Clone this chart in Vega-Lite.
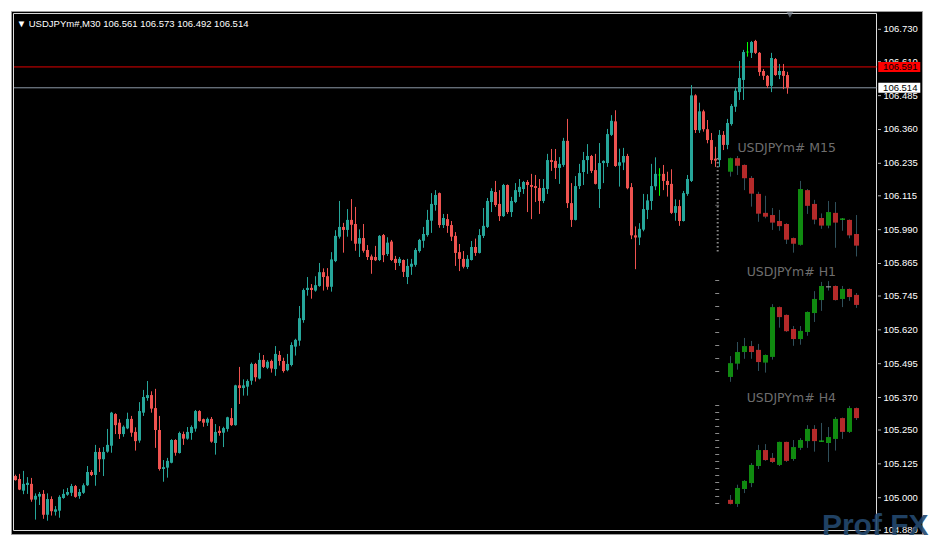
{
"$schema":"https://vega.github.io/schema/vega-lite/v6.json",
"width":911,"height":523,
"autosize":{"type":"none"},
"padding":{"left":11,"top":11,"right":14,"bottom":8},
"background":"#ffffff",
"config":{"view":{"fill":"#000000","stroke":"#9c9c9c"}},
"datasets":{
"m30":[
{"bar":0,"open":105.080,"high":105.085,"low":105.063,"close":105.065},
{"bar":1,"open":105.069,"high":105.088,"low":105.028,"close":105.030},
{"bar":2,"open":105.026,"high":105.099,"low":105.013,"close":105.051},
{"bar":3,"open":105.047,"high":105.076,"low":105.014,"close":105.055},
{"bar":4,"open":105.051,"high":105.073,"low":104.985,"close":104.993},
{"bar":5,"open":104.993,"high":105.016,"low":104.919,"close":105.007},
{"bar":6,"open":105.004,"high":105.021,"low":104.973,"close":105.014},
{"bar":7,"open":105.014,"high":105.028,"low":104.922,"close":104.937},
{"bar":8,"open":104.937,"high":105.016,"low":104.915,"close":104.995},
{"bar":9,"open":104.995,"high":105.005,"low":104.934,"close":104.950},
{"bar":10,"open":104.948,"high":104.969,"low":104.934,"close":104.957},
{"bar":11,"open":104.952,"high":105.009,"low":104.926,"close":105.003},
{"bar":12,"open":104.999,"high":105.031,"low":104.996,"close":105.014},
{"bar":13,"open":105.011,"high":105.036,"low":105.007,"close":105.021},
{"bar":14,"open":105.018,"high":105.051,"low":105.006,"close":105.043},
{"bar":15,"open":105.043,"high":105.047,"low":105.000,"close":105.003},
{"bar":16,"open":105.006,"high":105.032,"low":104.996,"close":105.021},
{"bar":17,"open":105.018,"high":105.053,"low":105.014,"close":105.046},
{"bar":18,"open":105.046,"high":105.117,"low":105.043,"close":105.095},
{"bar":19,"open":105.095,"high":105.102,"low":105.080,"close":105.084},
{"bar":20,"open":105.084,"high":105.195,"low":105.044,"close":105.169},
{"bar":21,"open":105.169,"high":105.184,"low":105.095,"close":105.142},
{"bar":22,"open":105.142,"high":105.187,"low":105.080,"close":105.169},
{"bar":23,"open":105.170,"high":105.254,"low":105.166,"close":105.195},
{"bar":24,"open":105.192,"high":105.317,"low":105.166,"close":105.314},
{"bar":25,"open":105.309,"high":105.312,"low":105.235,"close":105.268},
{"bar":26,"open":105.277,"high":105.290,"low":105.217,"close":105.235},
{"bar":27,"open":105.235,"high":105.267,"low":105.225,"close":105.262},
{"bar":28,"open":105.256,"high":105.314,"low":105.253,"close":105.291},
{"bar":29,"open":105.291,"high":105.302,"low":105.225,"close":105.240},
{"bar":30,"open":105.243,"high":105.260,"low":105.174,"close":105.209},
{"bar":31,"open":105.211,"high":105.353,"low":105.203,"close":105.320},
{"bar":32,"open":105.314,"high":105.398,"low":105.302,"close":105.372},
{"bar":33,"open":105.368,"high":105.431,"low":105.358,"close":105.379},
{"bar":34,"open":105.379,"high":105.393,"low":105.314,"close":105.329},
{"bar":35,"open":105.331,"high":105.402,"low":105.184,"close":105.250},
{"bar":36,"open":105.250,"high":105.302,"low":105.100,"close":105.106},
{"bar":37,"open":105.106,"high":105.139,"low":105.059,"close":105.113},
{"bar":38,"open":105.111,"high":105.147,"low":105.074,"close":105.136},
{"bar":39,"open":105.129,"high":105.216,"low":105.127,"close":105.213},
{"bar":40,"open":105.213,"high":105.216,"low":105.155,"close":105.166},
{"bar":41,"open":105.165,"high":105.244,"low":105.163,"close":105.239},
{"bar":42,"open":105.235,"high":105.244,"low":105.195,"close":105.218},
{"bar":43,"open":105.218,"high":105.261,"low":105.214,"close":105.243},
{"bar":44,"open":105.239,"high":105.267,"low":105.214,"close":105.261},
{"bar":45,"open":105.255,"high":105.324,"low":105.244,"close":105.320},
{"bar":46,"open":105.320,"high":105.323,"low":105.281,"close":105.283},
{"bar":47,"open":105.290,"high":105.292,"low":105.262,"close":105.277},
{"bar":48,"open":105.277,"high":105.296,"low":105.265,"close":105.291},
{"bar":49,"open":105.291,"high":105.298,"low":105.203,"close":105.207},
{"bar":50,"open":105.202,"high":105.272,"low":105.159,"close":105.243},
{"bar":51,"open":105.247,"high":105.264,"low":105.229,"close":105.239},
{"bar":52,"open":105.240,"high":105.262,"low":105.187,"close":105.257},
{"bar":53,"open":105.254,"high":105.299,"low":105.244,"close":105.297},
{"bar":54,"open":105.294,"high":105.331,"low":105.265,"close":105.268},
{"bar":55,"open":105.268,"high":105.417,"low":105.266,"close":105.415},
{"bar":56,"open":105.415,"high":105.483,"low":105.346,"close":105.405},
{"bar":57,"open":105.405,"high":105.437,"low":105.377,"close":105.415},
{"bar":58,"open":105.410,"high":105.437,"low":105.377,"close":105.431},
{"bar":59,"open":105.432,"high":105.499,"low":105.417,"close":105.494},
{"bar":60,"open":105.494,"high":105.498,"low":105.429,"close":105.445},
{"bar":61,"open":105.440,"high":105.535,"low":105.437,"close":105.509},
{"bar":62,"open":105.509,"high":105.527,"low":105.479,"close":105.483},
{"bar":63,"open":105.480,"high":105.508,"low":105.475,"close":105.502},
{"bar":64,"open":105.505,"high":105.510,"low":105.462,"close":105.477},
{"bar":65,"open":105.475,"high":105.560,"low":105.450,"close":105.531},
{"bar":66,"open":105.527,"high":105.542,"low":105.488,"close":105.505},
{"bar":67,"open":105.505,"high":105.517,"low":105.462,"close":105.468},
{"bar":68,"open":105.471,"high":105.531,"low":105.467,"close":105.494},
{"bar":69,"open":105.490,"high":105.574,"low":105.485,"close":105.564},
{"bar":70,"open":105.558,"high":105.587,"low":105.525,"close":105.583},
{"bar":71,"open":105.580,"high":105.708,"low":105.561,"close":105.663},
{"bar":72,"open":105.656,"high":105.773,"low":105.646,"close":105.767},
{"bar":73,"open":105.767,"high":105.815,"low":105.746,"close":105.775},
{"bar":74,"open":105.775,"high":105.789,"low":105.735,"close":105.767},
{"bar":75,"open":105.765,"high":105.818,"low":105.761,"close":105.785},
{"bar":76,"open":105.782,"high":105.867,"low":105.779,"close":105.833},
{"bar":77,"open":105.833,"high":105.847,"low":105.765,"close":105.815},
{"bar":78,"open":105.818,"high":105.848,"low":105.768,"close":105.779},
{"bar":79,"open":105.779,"high":105.907,"low":105.761,"close":105.880},
{"bar":80,"open":105.874,"high":105.988,"low":105.870,"close":105.967},
{"bar":81,"open":105.964,"high":106.096,"low":105.957,"close":106.000},
{"bar":82,"open":106.000,"high":106.015,"low":105.905,"close":105.989},
{"bar":83,"open":105.989,"high":106.066,"low":105.964,"close":106.026},
{"bar":84,"open":106.026,"high":106.103,"low":105.949,"close":106.008},
{"bar":85,"open":106.011,"high":106.074,"low":105.912,"close":105.938},
{"bar":86,"open":105.938,"high":105.991,"low":105.889,"close":105.959},
{"bar":87,"open":105.959,"high":106.011,"low":105.905,"close":105.912},
{"bar":88,"open":105.915,"high":105.933,"low":105.878,"close":105.889},
{"bar":89,"open":105.891,"high":105.898,"low":105.827,"close":105.878},
{"bar":90,"open":105.889,"high":105.930,"low":105.874,"close":105.877},
{"bar":91,"open":105.878,"high":105.970,"low":105.874,"close":105.967},
{"bar":92,"open":105.970,"high":105.974,"low":105.870,"close":105.896},
{"bar":93,"open":105.900,"high":105.962,"low":105.893,"close":105.942},
{"bar":94,"open":105.946,"high":105.952,"low":105.874,"close":105.878},
{"bar":95,"open":105.882,"high":105.893,"low":105.841,"close":105.867},
{"bar":96,"open":105.867,"high":105.889,"low":105.856,"close":105.882},
{"bar":97,"open":105.878,"high":105.880,"low":105.815,"close":105.834},
{"bar":98,"open":105.815,"high":105.882,"low":105.789,"close":105.856},
{"bar":99,"open":105.853,"high":105.882,"low":105.823,"close":105.864},
{"bar":100,"open":105.860,"high":105.922,"low":105.853,"close":105.915},
{"bar":101,"open":105.911,"high":105.956,"low":105.905,"close":105.952},
{"bar":102,"open":105.949,"high":106.000,"low":105.923,"close":105.974},
{"bar":103,"open":105.970,"high":106.063,"low":105.964,"close":106.026},
{"bar":104,"open":106.023,"high":106.125,"low":105.978,"close":106.085},
{"bar":105,"open":106.081,"high":106.136,"low":106.060,"close":106.118},
{"bar":106,"open":106.125,"high":106.127,"low":105.997,"close":106.007},
{"bar":107,"open":106.007,"high":106.048,"low":105.996,"close":106.033},
{"bar":108,"open":106.029,"high":106.048,"low":105.978,"close":106.004},
{"bar":109,"open":106.007,"high":106.022,"low":105.948,"close":105.964},
{"bar":110,"open":105.967,"high":105.981,"low":105.856,"close":105.904},
{"bar":111,"open":105.907,"high":105.937,"low":105.837,"close":105.882},
{"bar":112,"open":105.882,"high":105.911,"low":105.847,"close":105.853},
{"bar":113,"open":105.852,"high":105.896,"low":105.845,"close":105.882},
{"bar":114,"open":105.878,"high":105.948,"low":105.876,"close":105.926},
{"bar":115,"open":105.926,"high":105.957,"low":105.893,"close":105.904},
{"bar":116,"open":105.904,"high":105.992,"low":105.902,"close":105.970},
{"bar":117,"open":105.967,"high":106.070,"low":105.959,"close":106.004},
{"bar":118,"open":106.000,"high":106.107,"low":105.996,"close":106.096},
{"bar":119,"open":106.092,"high":106.143,"low":106.055,"close":106.133},
{"bar":120,"open":106.129,"high":106.170,"low":106.074,"close":106.081},
{"bar":121,"open":106.085,"high":106.136,"low":106.022,"close":106.040},
{"bar":122,"open":106.040,"high":106.159,"low":106.037,"close":106.155},
{"bar":123,"open":106.155,"high":106.157,"low":106.048,"close":106.055},
{"bar":124,"open":106.055,"high":106.111,"low":106.037,"close":106.096},
{"bar":125,"open":106.092,"high":106.162,"low":106.088,"close":106.136},
{"bar":126,"open":106.129,"high":106.177,"low":106.111,"close":106.148},
{"bar":127,"open":106.140,"high":106.170,"low":106.122,"close":106.166},
{"bar":128,"open":106.166,"high":106.173,"low":106.055,"close":106.155},
{"bar":129,"open":106.155,"high":106.196,"low":106.029,"close":106.148},
{"bar":130,"open":106.151,"high":106.192,"low":106.092,"close":106.144},
{"bar":131,"open":106.144,"high":106.177,"low":106.048,"close":106.096},
{"bar":132,"open":106.096,"high":106.177,"low":106.088,"close":106.144},
{"bar":133,"open":106.140,"high":106.270,"low":106.122,"close":106.247},
{"bar":134,"open":106.247,"high":106.288,"low":106.207,"close":106.240},
{"bar":135,"open":106.244,"high":106.288,"low":106.177,"close":106.218},
{"bar":136,"open":106.218,"high":106.258,"low":106.159,"close":106.233},
{"bar":137,"open":106.229,"high":106.329,"low":106.222,"close":106.318},
{"bar":138,"open":106.318,"high":106.399,"low":106.070,"close":106.088},
{"bar":139,"open":106.088,"high":106.162,"low":106.000,"close":106.026},
{"bar":140,"open":106.026,"high":106.188,"low":106.024,"close":106.151},
{"bar":141,"open":106.151,"high":106.233,"low":106.140,"close":106.199},
{"bar":142,"open":106.203,"high":106.277,"low":106.155,"close":106.247},
{"bar":143,"open":106.247,"high":106.306,"low":106.196,"close":106.262},
{"bar":144,"open":106.262,"high":106.266,"low":106.199,"close":106.207},
{"bar":145,"open":106.210,"high":106.270,"low":106.157,"close":106.159},
{"bar":146,"open":106.140,"high":106.310,"low":106.070,"close":106.236},
{"bar":147,"open":106.236,"high":106.246,"low":106.162,"close":106.244},
{"bar":148,"open":106.236,"high":106.362,"low":106.222,"close":106.343},
{"bar":149,"open":106.340,"high":106.413,"low":106.336,"close":106.392},
{"bar":150,"open":106.390,"high":106.431,"low":106.222,"close":106.225},
{"bar":151,"open":106.226,"high":106.289,"low":106.149,"close":106.239},
{"bar":152,"open":106.238,"high":106.292,"low":106.210,"close":106.262},
{"bar":153,"open":106.262,"high":106.270,"low":106.139,"close":106.143},
{"bar":154,"open":106.147,"high":106.162,"low":105.955,"close":105.969},
{"bar":155,"open":105.969,"high":106.002,"low":105.844,"close":105.961},
{"bar":156,"open":105.961,"high":106.014,"low":105.933,"close":105.993},
{"bar":157,"open":105.990,"high":106.122,"low":105.984,"close":106.066},
{"bar":158,"open":106.063,"high":106.121,"low":106.029,"close":106.098},
{"bar":159,"open":106.096,"high":106.233,"low":106.063,"close":106.151},
{"bar":160,"open":106.150,"high":106.257,"low":106.136,"close":106.196},
{"bar":161,"open":106.192,"high":106.217,"low":106.115,"close":106.192},
{"bar":162,"open":106.196,"high":106.229,"low":106.136,"close":106.170},
{"bar":163,"open":106.170,"high":106.204,"low":106.112,"close":106.155},
{"bar":164,"open":106.159,"high":106.213,"low":106.048,"close":106.052},
{"bar":165,"open":106.052,"high":106.102,"low":106.023,"close":106.077},
{"bar":166,"open":106.077,"high":106.100,"low":106.004,"close":106.022},
{"bar":167,"open":106.022,"high":106.133,"low":106.020,"close":106.125},
{"bar":168,"open":106.122,"high":106.192,"low":106.115,"close":106.177},
{"bar":169,"open":106.170,"high":106.524,"low":106.166,"close":106.486},
{"bar":170,"open":106.486,"high":106.490,"low":106.347,"close":106.358},
{"bar":171,"open":106.357,"high":106.459,"low":106.347,"close":106.427},
{"bar":172,"open":106.427,"high":106.433,"low":106.352,"close":106.361},
{"bar":173,"open":106.361,"high":106.395,"low":106.309,"close":106.321},
{"bar":174,"open":106.321,"high":106.347,"low":106.233,"close":106.247},
{"bar":175,"open":106.252,"high":106.296,"low":106.222,"close":106.245},
{"bar":176,"open":106.247,"high":106.358,"low":106.222,"close":106.340},
{"bar":177,"open":106.340,"high":106.354,"low":106.284,"close":106.303},
{"bar":178,"open":106.303,"high":106.399,"low":106.287,"close":106.384},
{"bar":179,"open":106.380,"high":106.454,"low":106.374,"close":106.447},
{"bar":180,"open":106.444,"high":106.514,"low":106.425,"close":106.503},
{"bar":181,"open":106.498,"high":106.613,"low":106.469,"close":106.550},
{"bar":182,"open":106.543,"high":106.654,"low":106.469,"close":106.646},
{"bar":183,"open":106.646,"high":106.683,"low":106.629,"close":106.646},
{"bar":184,"open":106.643,"high":106.687,"low":106.624,"close":106.683},
{"bar":185,"open":106.687,"high":106.691,"low":106.639,"close":106.643},
{"bar":186,"open":106.643,"high":106.646,"low":106.558,"close":106.572},
{"bar":187,"open":106.576,"high":106.583,"low":106.543,"close":106.558},
{"bar":188,"open":106.558,"high":106.561,"low":106.513,"close":106.521},
{"bar":189,"open":106.521,"high":106.643,"low":106.498,"close":106.624},
{"bar":190,"open":106.620,"high":106.624,"low":106.558,"close":106.561},
{"bar":191,"open":106.561,"high":106.602,"low":106.546,"close":106.576},
{"bar":192,"open":106.576,"high":106.602,"low":106.509,"close":106.558},
{"bar":193,"open":106.561,"high":106.573,"low":106.492,"close":106.514}
],
"mini":[
{"tf":"M15","k":0,"open":106.204,"high":106.256,"low":106.186,"close":106.254},
{"tf":"M15","k":1,"open":106.254,"high":106.262,"low":106.192,"close":106.226},
{"tf":"M15","k":2,"open":106.229,"high":106.231,"low":106.136,"close":106.180},
{"tf":"M15","k":3,"open":106.181,"high":106.188,"low":106.075,"close":106.123},
{"tf":"M15","k":4,"open":106.122,"high":106.130,"low":106.019,"close":106.049},
{"tf":"M15","k":5,"open":106.052,"high":106.115,"low":106.032,"close":106.038},
{"tf":"M15","k":6,"open":106.044,"high":106.070,"low":105.989,"close":106.016},
{"tf":"M15","k":7,"open":106.022,"high":106.063,"low":105.986,"close":106.003},
{"tf":"M15","k":8,"open":106.011,"high":106.014,"low":105.937,"close":105.953},
{"tf":"M15","k":9,"open":105.959,"high":105.961,"low":105.905,"close":105.938},
{"tf":"M15","k":10,"open":105.934,"high":106.170,"low":105.931,"close":106.140},
{"tf":"M15","k":11,"open":106.136,"high":106.140,"low":106.048,"close":106.078},
{"tf":"M15","k":12,"open":106.085,"high":106.100,"low":106.010,"close":106.027},
{"tf":"M15","k":13,"open":106.033,"high":106.050,"low":105.993,"close":106.005},
{"tf":"M15","k":14,"open":106.005,"high":106.096,"low":105.995,"close":106.055},
{"tf":"M15","k":15,"open":106.052,"high":106.092,"low":105.923,"close":106.016},
{"tf":"M15","k":16,"open":106.027,"high":106.033,"low":105.986,"close":106.029},
{"tf":"M15","k":17,"open":106.026,"high":106.028,"low":105.958,"close":105.969},
{"tf":"M15","k":18,"open":105.974,"high":106.044,"low":105.891,"close":105.931},
{"tf":"H1","k":0,"open":105.446,"high":105.523,"low":105.428,"close":105.497},
{"tf":"H1","k":1,"open":105.495,"high":105.575,"low":105.473,"close":105.538},
{"tf":"H1","k":2,"open":105.538,"high":105.590,"low":105.513,"close":105.560},
{"tf":"H1","k":3,"open":105.560,"high":105.579,"low":105.513,"close":105.538},
{"tf":"H1","k":4,"open":105.546,"high":105.568,"low":105.468,"close":105.501},
{"tf":"H1","k":5,"open":105.499,"high":105.529,"low":105.462,"close":105.527},
{"tf":"H1","k":6,"open":105.520,"high":105.715,"low":105.510,"close":105.704},
{"tf":"H1","k":7,"open":105.704,"high":105.706,"low":105.628,"close":105.667},
{"tf":"H1","k":8,"open":105.675,"high":105.677,"low":105.612,"close":105.615},
{"tf":"H1","k":9,"open":105.623,"high":105.634,"low":105.561,"close":105.586},
{"tf":"H1","k":10,"open":105.586,"high":105.634,"low":105.565,"close":105.616},
{"tf":"H1","k":11,"open":105.612,"high":105.688,"low":105.598,"close":105.686},
{"tf":"H1","k":12,"open":105.682,"high":105.763,"low":105.649,"close":105.734},
{"tf":"H1","k":13,"open":105.730,"high":105.797,"low":105.690,"close":105.782},
{"tf":"H1","k":14,"open":105.779,"high":105.800,"low":105.765,"close":105.779},
{"tf":"H1","k":15,"open":105.782,"high":105.784,"low":105.728,"close":105.730},
{"tf":"H1","k":16,"open":105.734,"high":105.782,"low":105.704,"close":105.771},
{"tf":"H1","k":17,"open":105.771,"high":105.773,"low":105.727,"close":105.741},
{"tf":"H1","k":18,"open":105.749,"high":105.756,"low":105.701,"close":105.712},
{"tf":"H4","k":0,"open":104.992,"high":105.010,"low":104.975,"close":104.977},
{"tf":"H4","k":1,"open":104.977,"high":105.048,"low":104.966,"close":105.036},
{"tf":"H4","k":2,"open":105.032,"high":105.065,"low":105.017,"close":105.062},
{"tf":"H4","k":3,"open":105.054,"high":105.128,"low":105.039,"close":105.121},
{"tf":"H4","k":4,"open":105.117,"high":105.195,"low":105.106,"close":105.176},
{"tf":"H4","k":5,"open":105.176,"high":105.198,"low":105.136,"close":105.139},
{"tf":"H4","k":6,"open":105.147,"high":105.165,"low":105.128,"close":105.132},
{"tf":"H4","k":7,"open":105.121,"high":105.207,"low":105.117,"close":105.206},
{"tf":"H4","k":8,"open":105.206,"high":105.207,"low":105.132,"close":105.136},
{"tf":"H4","k":9,"open":105.143,"high":105.213,"low":105.136,"close":105.187},
{"tf":"H4","k":10,"open":105.184,"high":105.220,"low":105.176,"close":105.213},
{"tf":"H4","k":11,"open":105.209,"high":105.268,"low":105.184,"close":105.254},
{"tf":"H4","k":12,"open":105.254,"high":105.268,"low":105.170,"close":105.209},
{"tf":"H4","k":13,"open":105.207,"high":105.276,"low":105.206,"close":105.209},
{"tf":"H4","k":14,"open":105.202,"high":105.261,"low":105.132,"close":105.224},
{"tf":"H4","k":15,"open":105.217,"high":105.298,"low":105.174,"close":105.291},
{"tf":"H4","k":16,"open":105.294,"high":105.296,"low":105.217,"close":105.243},
{"tf":"H4","k":17,"open":105.243,"high":105.339,"low":105.239,"close":105.331},
{"tf":"H4","k":18,"open":105.331,"high":105.333,"low":105.287,"close":105.294}
],
"levels":[{"level":"ask","price":106.591},{"level":"bid","price":106.514}],
"yticks":[{"v":106.730},{"v":106.610},{"v":106.485},{"v":106.360},{"v":106.235},{"v":106.115},{"v":105.990},{"v":105.865},{"v":105.745},{"v":105.620},{"v":105.495},{"v":105.370},{"v":105.250},{"v":105.125},{"v":105.000},{"v":104.880}]
},
"resolve":{"scale":{"x":"independent"}},
"layer":[
{"data":{"values":[{}]},"mark":{"type":"rect","fillOpacity":0,"stroke":"#dcdcdc","strokeWidth":1},
 "encoding":{
  "x":{"datum":-0.5,"type":"quantitative","scale":{"domain":[-1.125,226.625],"nice":false,"zero":false},"axis":null},
  "x2":{"datum":215.25},
  "y":{"datum":106.7884,"type":"quantitative","scale":{"domain":[104.8659,106.7976],"nice":false,"zero":false},"axis":null},
  "y2":{"datum":104.8788}}},
{"data":{"name":"yticks"},"mark":{"type":"tick","orient":"horizontal","size":3,"thickness":1,"color":"#ffffff"},
 "encoding":{
  "x":{"datum":216.0,"type":"quantitative","scale":{"domain":[-1.125,226.625],"nice":false,"zero":false},"axis":null},
  "y":{"field":"v","type":"quantitative","scale":{"domain":[104.8659,106.7976],"nice":false,"zero":false},"axis":null}}},
{"data":{"name":"yticks"},"mark":{"type":"text","align":"left","baseline":"middle","font":"Liberation Sans","fontSize":9.5,"color":"#ffffff"},
 "encoding":{
  "x":{"datum":217.0,"type":"quantitative","scale":{"domain":[-1.125,226.625],"nice":false,"zero":false},"axis":null},
  "y":{"field":"v","type":"quantitative","scale":{"domain":[104.8659,106.7976],"nice":false,"zero":false},"axis":null},
  "text":{"field":"v","type":"quantitative","format":".3f"}}},
{"data":{"name":"levels"},"mark":{"type":"rule","strokeWidth":1},
 "encoding":{
  "x":{"datum":-0.375,"type":"quantitative","scale":{"domain":[-1.125,226.625],"nice":false,"zero":false},"axis":null},
  "x2":{"datum":215.25},
  "y":{"field":"price","type":"quantitative","scale":{"domain":[104.8659,106.7976],"nice":false,"zero":false},"axis":null},
  "color":{"condition":{"test":"datum.level === 'ask'","value":"#e00000"},"value":"#8c98a6"}}},
{"data":{"name":"m30"},"mark":{"type":"rule","strokeWidth":1},
 "encoding":{
  "x":{"field":"bar","type":"quantitative","scale":{"domain":[-1.125,226.625],"nice":false,"zero":false},"axis":null},
  "y":{"field":"low","type":"quantitative","scale":{"domain":[104.8659,106.7976],"nice":false,"zero":false},"axis":null},
  "y2":{"field":"high"},
  "color":{"condition":[{"test":"datum.close > datum.open","value":"#26a69a"},{"test":"datum.close < datum.open","value":"#ef5350"}],"value":"#00ff00"}}},
{"data":{"name":"m30"},"mark":{"type":"rule","strokeWidth":3,"strokeCap":"butt"},
 "encoding":{
  "x":{"field":"bar","type":"quantitative","scale":{"domain":[-1.125,226.625],"nice":false,"zero":false},"axis":null},
  "y":{"field":"open","type":"quantitative","scale":{"domain":[104.8659,106.7976],"nice":false,"zero":false},"axis":null},
  "y2":{"field":"close"},
  "color":{"condition":[{"test":"datum.close > datum.open","value":"#26a69a"},{"test":"datum.close < datum.open","value":"#ef5350"}],"value":"#00ff00"}}},
{"data":{"name":"m30"},"transform":[{"filter":"abs(datum.close - datum.open) < 0.002"}],
 "mark":{"type":"tick","orient":"horizontal","size":3,"thickness":1},
 "encoding":{
  "x":{"field":"bar","type":"quantitative","scale":{"domain":[-1.125,226.625],"nice":false,"zero":false},"axis":null},
  "y":{"field":"close","type":"quantitative","scale":{"domain":[104.8659,106.7976],"nice":false,"zero":false},"axis":null},
  "color":{"condition":[{"test":"datum.close > datum.open","value":"#26a69a"},{"test":"datum.close < datum.open","value":"#ef5350"}],"value":"#00ff00"}}},
{"data":{"name":"levels"},"mark":{"type":"rect","yOffset":-5,"y2Offset":5},
 "encoding":{
  "x":{"datum":215.7,"type":"quantitative","scale":{"domain":[-1.125,226.625],"nice":false,"zero":false},"axis":null},
  "x2":{"datum":226.2},
  "y":{"field":"price","type":"quantitative","scale":{"domain":[104.8659,106.7976],"nice":false,"zero":false},"axis":null},
  "y2":{"field":"price"},
  "color":{"condition":{"test":"datum.level === 'ask'","value":"#ff0000"},"value":"#ffffff"}}},
{"data":{"name":"levels"},"mark":{"type":"text","align":"left","baseline":"middle","font":"Liberation Sans","fontSize":9.5,"color":"#000000"},
 "encoding":{
  "x":{"datum":216.9,"type":"quantitative","scale":{"domain":[-1.125,226.625],"nice":false,"zero":false},"axis":null},
  "y":{"field":"price","type":"quantitative","scale":{"domain":[104.8659,106.7976],"nice":false,"zero":false},"axis":null},
  "text":{"field":"price","type":"quantitative","format":".3f"}}},
{"data":{"values":[{"label":"▼ USDJPYm#,M30  106.561 106.573 106.492 106.514"}]},"mark":{"type":"text","align":"left","baseline":"alphabetic","font":"Liberation Sans","fontSize":9.5,"color":"#ffffff"},
 "encoding":{
  "x":{"datum":0.3,"type":"quantitative","scale":{"domain":[-1.125,226.625],"nice":false,"zero":false},"axis":null},
  "y":{"datum":106.740,"type":"quantitative","scale":{"domain":[104.8659,106.7976],"nice":false,"zero":false},"axis":null},
  "text":{"field":"label"}}},
{"data":{"values":[{}]},"mark":{"type":"point","shape":"triangle-down","filled":true,"size":45,"color":"#7d8894"},
 "encoding":{
  "x":{"datum":193.6,"type":"quantitative","scale":{"domain":[-1.125,226.625],"nice":false,"zero":false},"axis":null},
  "y":{"datum":106.783,"type":"quantitative","scale":{"domain":[104.8659,106.7976],"nice":false,"zero":false},"axis":null}}},
{"data":{"values":[{"label":"Prof FX"}]},"mark":{"type":"text","align":"left","baseline":"alphabetic","font":"Liberation Sans","fontWeight":"bold","fontSize":30,"color":"#24496e","opacity":0.9},
 "encoding":{
  "x":{"datum":201.6,"type":"quantitative","scale":{"domain":[-1.125,226.625],"nice":false,"zero":false},"axis":null},
  "y":{"datum":104.862,"type":"quantitative","scale":{"domain":[104.8659,106.7976],"nice":false,"zero":false},"axis":null},
  "text":{"field":"label"}}},
{"data":{"values":[{}]},"mark":{"type":"rule","strokeWidth":2,"strokeDash":[1.5,2.5],"color":"#8a8a8a"},
 "encoding":{
  "x":{"datum":-1.83,"type":"quantitative","scale":{"domain":[-102.786,27.357],"nice":false,"zero":false},"axis":null},
  "y":{"datum":106.255,"type":"quantitative","scale":{"domain":[104.8659,106.7976],"nice":false,"zero":false},"axis":null},
  "y2":{"datum":105.908}}},
{"data":{"values":[{}]},"mark":{"type":"tick","orient":"horizontal","size":4,"thickness":1,"color":"#8a8a8a"},
 "encoding":{
  "x":{"datum":-1.9,"type":"quantitative","scale":{"domain":[-102.786,27.357],"nice":false,"zero":false},"axis":null},
  "y":{"datum":106.080,"type":"quantitative","scale":{"domain":[104.8659,106.7976],"nice":false,"zero":false},"axis":null}}},
{"data":{"values":[{}]},"mark":{"type":"rule","strokeWidth":4,"strokeDash":[1,12],"color":"#8a8a8a"},
 "encoding":{
  "x":{"datum":-1.9,"type":"quantitative","scale":{"domain":[-102.786,27.357],"nice":false,"zero":false},"axis":null},
  "y":{"datum":105.804,"type":"quantitative","scale":{"domain":[104.8659,106.7976],"nice":false,"zero":false},"axis":null},
  "y2":{"datum":105.464}}},
{"data":{"values":[{}]},"mark":{"type":"rule","strokeWidth":4,"strokeDash":[1,6],"color":"#8a8a8a"},
 "encoding":{
  "x":{"datum":-1.9,"type":"quantitative","scale":{"domain":[-102.786,27.357],"nice":false,"zero":false},"axis":null},
  "y":{"datum":105.342,"type":"quantitative","scale":{"domain":[104.8659,106.7976],"nice":false,"zero":false},"axis":null},
  "y2":{"datum":104.977}}},
{"data":{"name":"mini"},"mark":{"type":"rule","strokeWidth":1,"color":"#2f4f5a"},
 "encoding":{
  "x":{"field":"k","type":"quantitative","scale":{"domain":[-102.786,27.357],"nice":false,"zero":false},"axis":null},
  "y":{"field":"low","type":"quantitative","scale":{"domain":[104.8659,106.7976],"nice":false,"zero":false},"axis":null},
  "y2":{"field":"high"},
  "detail":{"field":"tf"}}},
{"data":{"name":"mini"},"mark":{"type":"rule","strokeWidth":5,"strokeCap":"butt"},
 "encoding":{
  "x":{"field":"k","type":"quantitative","scale":{"domain":[-102.786,27.357],"nice":false,"zero":false},"axis":null},
  "y":{"field":"open","type":"quantitative","scale":{"domain":[104.8659,106.7976],"nice":false,"zero":false},"axis":null},
  "y2":{"field":"close"},
  "detail":{"field":"tf"},
  "color":{"condition":[{"test":"datum.close > datum.open","value":"#108a10"},{"test":"datum.close < datum.open","value":"#b52a2a"}],"value":"#a9a9a9"}}},
{"data":{"name":"mini"},"transform":[{"filter":"abs(datum.close - datum.open) < 0.003"}],
 "mark":{"type":"tick","orient":"horizontal","size":5,"thickness":1.5},
 "encoding":{
  "x":{"field":"k","type":"quantitative","scale":{"domain":[-102.786,27.357],"nice":false,"zero":false},"axis":null},
  "y":{"field":"close","type":"quantitative","scale":{"domain":[104.8659,106.7976],"nice":false,"zero":false},"axis":null},
  "color":{"condition":[{"test":"datum.close > datum.open","value":"#18c018"},{"test":"datum.close < datum.open","value":"#b52a2a"}],"value":"#a9a9a9"}}},
{"data":{"values":[{"tf":"M15","label":"USDJPYm# M15"}]},"mark":{"type":"text","align":"right","baseline":"alphabetic","font":"DejaVu Sans","fontSize":12.5,"color":"#6e6e6e"},
 "encoding":{
  "x":{"datum":15.07,"type":"quantitative","scale":{"domain":[-102.786,27.357],"nice":false,"zero":false},"axis":null},
  "y":{"datum":106.278,"type":"quantitative","scale":{"domain":[104.8659,106.7976],"nice":false,"zero":false},"axis":null},
  "text":{"field":"label"}}},
{"data":{"values":[{"tf":"H1","label":"USDJPYm# H1"}]},"mark":{"type":"text","align":"right","baseline":"alphabetic","font":"DejaVu Sans","fontSize":12.5,"color":"#6e6e6e"},
 "encoding":{
  "x":{"datum":15.07,"type":"quantitative","scale":{"domain":[-102.786,27.357],"nice":false,"zero":false},"axis":null},
  "y":{"datum":105.818,"type":"quantitative","scale":{"domain":[104.8659,106.7976],"nice":false,"zero":false},"axis":null},
  "text":{"field":"label"}}},
{"data":{"values":[{"tf":"H4","label":"USDJPYm# H4"}]},"mark":{"type":"text","align":"right","baseline":"alphabetic","font":"DejaVu Sans","fontSize":12.5,"color":"#6e6e6e"},
 "encoding":{
  "x":{"datum":15.07,"type":"quantitative","scale":{"domain":[-102.786,27.357],"nice":false,"zero":false},"axis":null},
  "y":{"datum":105.354,"type":"quantitative","scale":{"domain":[104.8659,106.7976],"nice":false,"zero":false},"axis":null},
  "text":{"field":"label"}}}
]
}
